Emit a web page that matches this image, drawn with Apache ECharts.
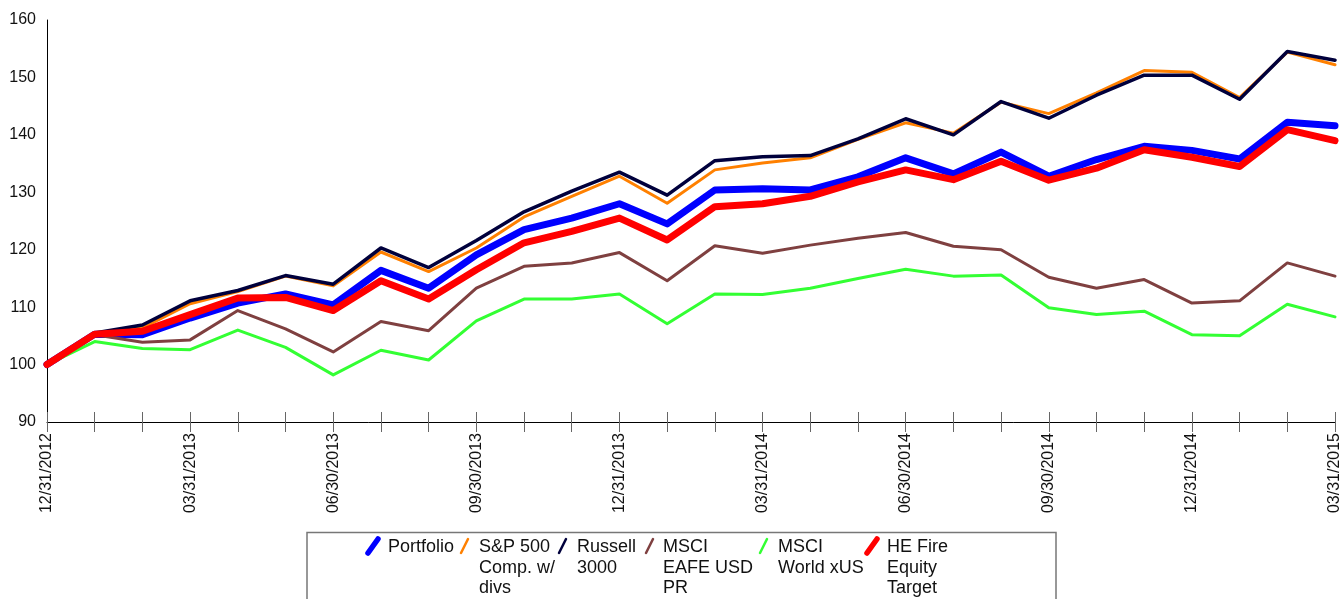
<!DOCTYPE html>
<html>
<head>
<meta charset="utf-8">
<script src="https://cdn.jsdelivr.net/npm/echarts@6/dist/echarts.min.js"></script>
<style>
  html, body { margin: 0; padding: 0; background: #fff; }
  #chart { width: 1343px; height: 599px; }
</style>
</head>
<body>
<div id="chart"></div>
<script>
const dates = [
  '12/31/2012', '01/31/2013', '02/28/2013', '03/31/2013', '04/30/2013', '05/31/2013', '06/30/2013',
  '07/31/2013', '08/31/2013', '09/30/2013', '10/31/2013', '11/30/2013', '12/31/2013',
  '01/31/2014', '02/28/2014', '03/31/2014', '04/30/2014', '05/31/2014', '06/30/2014',
  '07/31/2014', '08/31/2014', '09/30/2014', '10/31/2014', '11/30/2014', '12/31/2014',
  '01/31/2015', '02/28/2015', '03/31/2015',
]
const yTicks = [90, 100, 110, 120, 130, 140, 150, 160]

const portfolio = [100, 105.3, 105.2, 108.1, 110.7, 112.3, 110.4, 116.4, 113.3, 119.1, 123.5, 125.5, 128.0,
  124.5, 130.4, 130.6, 130.4, 132.7, 136.0, 133.2, 137.0, 132.8, 135.7, 138.0, 137.3, 135.8, 142.2, 141.6]
const sp500 = [100, 105.4, 106.4, 110.6, 112.7, 115.4, 113.7, 119.6, 116.2, 120.3, 125.7, 129.3, 132.8,
  128.1, 133.9, 135.1, 136.0, 139.2, 142.1, 140.3, 145.7, 143.7, 147.3, 151.2, 150.9, 146.5, 154.4, 152.2]
const russell3000 = [100, 105.5, 106.9, 111.1, 112.9, 115.5, 114.0, 120.3, 116.9, 121.6, 126.6, 130.2, 133.5,
  129.5, 135.5, 136.2, 136.4, 139.3, 142.8, 140.0, 145.8, 142.9, 146.9, 150.4, 150.4, 146.2, 154.5, 153.0]
const eafe = [100, 105.2, 103.9, 104.3, 109.4, 106.2, 102.2, 107.5, 105.9, 113.3, 117.1, 117.7, 119.5,
  114.6, 120.7, 119.4, 120.8, 122.0, 123.0, 120.6, 120.0, 115.2, 113.3, 114.8, 110.7, 111.1, 117.7, 115.4]
const worldXus = [100, 104.0, 102.8, 102.6, 106.0, 103.0, 98.2, 102.5, 100.8, 107.6, 111.4, 111.4, 112.3,
  107.1, 112.3, 112.2, 113.3, 115.0, 116.6, 115.4, 115.6, 109.9, 108.7, 109.3, 105.2, 105.0, 110.5, 108.3]
const heFire = [100, 105.3, 105.8, 108.7, 111.6, 111.7, 109.4, 114.6, 111.4, 116.5, 121.2, 123.2, 125.5,
  121.7, 127.5, 128.0, 129.3, 131.8, 133.9, 132.2, 135.4, 132.1, 134.2, 137.4, 136.1, 134.5, 140.9, 139.0]

const seriesList = [
  { name: 'Portfolio', data: portfolio, color: '#0000ff', width: 7, lines: ['Portfolio'] },
  { name: 'S&P 500 Comp. w/ divs', data: sp500, color: '#ff8000', width: 3, lines: ['S&P 500', 'Comp. w/', 'divs'] },
  { name: 'Russell 3000', data: russell3000, color: '#00003c', width: 3.5, lines: ['Russell', '3000'] },
  { name: 'MSCI EAFE USD PR', data: eafe, color: '#7f4040', width: 3, lines: ['MSCI', 'EAFE USD', 'PR'] },
  { name: 'MSCI World xUS', data: worldXus, color: '#33ff33', width: 3, lines: ['MSCI', 'World xUS'] },
  { name: 'HE Fire Equity Target', data: heFire, color: '#ff0000', width: 7, lines: ['HE Fire', 'Equity', 'Target'] },
]

// legend slots (icon left edge, text left edge)
const legendIconX = [365, 458, 556, 643, 757, 864]
const legendTextX = [388, 479, 577, 663, 778, 887]

const font = 'Liberation Sans, Arial, sans-serif'

const chart = echarts.init(document.getElementById('chart'))

const axisY = {
  type: 'value',
  min: yTicks[0],
  max: yTicks[yTicks.length - 1],
  interval: 10,
  splitLine: { show: false },
}

// legend drawn by hand so each entry can wrap onto its own lines
const legendGraphics = [
  {
    type: 'rect',
    shape: { x: 307, y: 532.5, width: 749, height: 90 },
    style: { fill: 'none', stroke: '#777', lineWidth: 1.5 },
    silent: true,
  },
]
seriesList.forEach((s, i) => {
  const thick = s.width > 5
  legendGraphics.push({
    type: 'line',
    shape: { x1: legendIconX[i] + 3, y1: 553, x2: legendIconX[i] + (thick ? 13 : 10), y2: 539 },
    style: { stroke: s.color, lineWidth: thick ? 5.5 : 2.5, lineCap: 'round' },
    silent: true,
  })
  legendGraphics.push({
    type: 'text',
    x: legendTextX[i],
    y: 537,
    style: {
      text: s.lines.join('\n'),
      fill: '#111',
      font: '18px ' + font,
      lineHeight: 20.5,
      verticalAlign: 'top',
    },
    silent: true,
  })
})

chart.setOption({
  animation: false,
  backgroundColor: '#fff',
  grid: { left: 47, right: 7, top: 20, bottom: 177, containLabel: false },
  xAxis: [
    {
      type: 'category',
      data: dates,
      boundaryGap: false,
      axisLine: { lineStyle: { color: '#000', width: 1 } },
      axisTick: { interval: 0, length: 10, lineStyle: { color: '#666' } },
      axisLabel: {
        interval: 2,
        rotate: 90,
        margin: 11,
        color: '#111',
        fontFamily: font,
        fontSize: 16,
      },
    },
    {
      type: 'category',
      data: dates,
      boundaryGap: false,
      position: 'bottom',
      axisLine: { show: false },
      axisTick: { interval: 0, inside: true, length: 10, lineStyle: { color: '#666' } },
      axisLabel: { show: false },
    },
  ],
  yAxis: [
    {
      ...axisY,
      axisLine: { show: true, lineStyle: { color: '#000', width: 1 } },
      axisTick: { length: 10, lineStyle: { color: '#555' } },
      axisLabel: { margin: 11, color: '#111', fontFamily: font, fontSize: 16 },
    },
    {
      ...axisY,
      position: 'left',
      axisLine: { show: false },
      axisTick: { inside: true, length: 11, lineStyle: { color: '#555' } },
      axisLabel: { show: false },
    },
  ],
  graphic: legendGraphics,
  series: seriesList.map(s => ({
    name: s.name,
    type: 'line',
    data: s.data,
    symbol: 'none',
    color: s.color,
    lineStyle: { color: s.color, width: s.width, join: 'round', cap: 'round' },
  })),
})
</script>
</body>
</html>
